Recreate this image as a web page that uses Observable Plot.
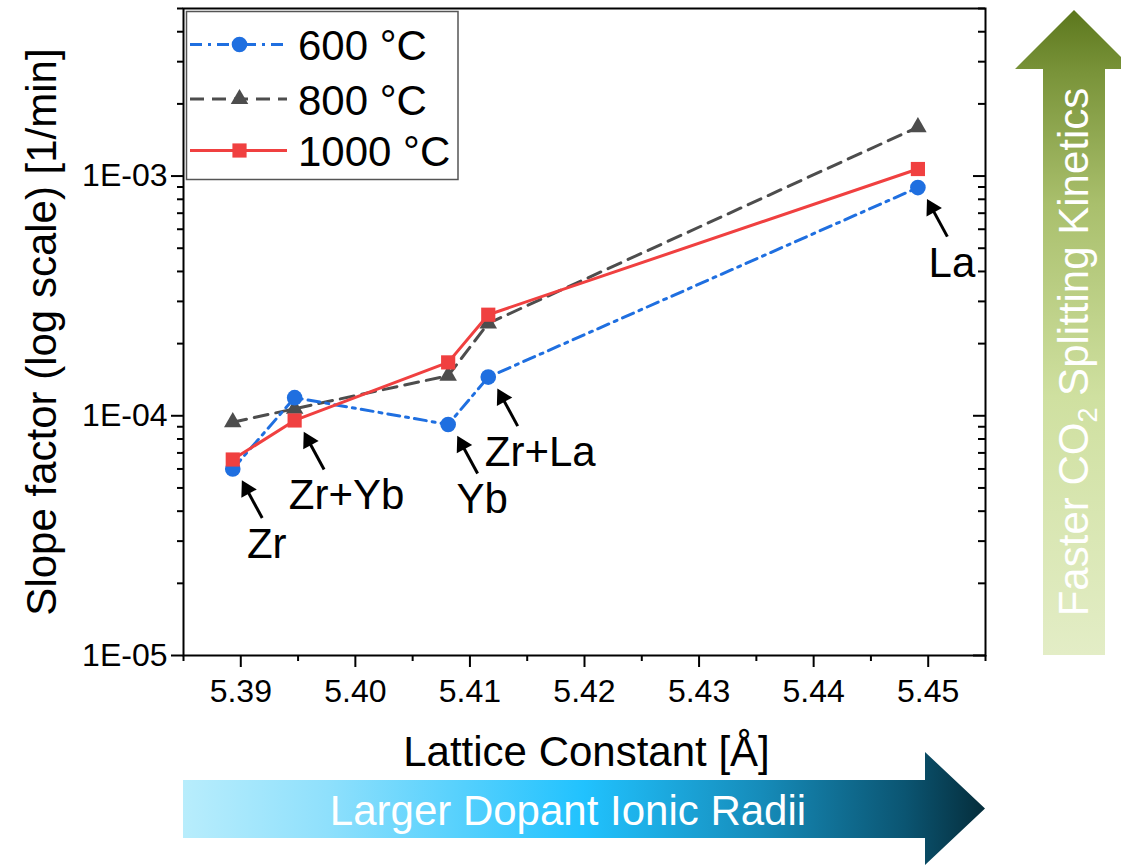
<!DOCTYPE html>
<html><head><meta charset="utf-8">
<script src="https://cdn.jsdelivr.net/npm/d3@7"></script>
<script src="https://cdn.jsdelivr.net/npm/@observablehq/plot@0.6"></script>
<style>
body{margin:0;background:#fff;font-family:"Liberation Sans",Arial,sans-serif;}
#chart{position:relative;width:1121px;height:865px;overflow:hidden;}
</style></head><body><div id="chart"></div>
<script>
// ---- data ----
const dopants = ["Zr", "Zr+Yb", "Yb", "Zr+La", "La"];
const latticeConstant = [5.3893, 5.3947, 5.4081, 5.4116, 5.4491];
const slope600 = [6.0e-5, 1.19e-4, 9.2e-5, 1.45e-4, 8.95e-4];
const slope800 = [9.4e-5, 1.07e-4, 1.47e-4, 2.43e-4, 1.60e-3];
const slope1000 = [6.57e-5, 9.56e-5, 1.67e-4, 2.64e-4, 1.07e-3];
const seriesNames = ["600 °C", "800 °C", "1000 °C"];
const xTicks = [5.39, 5.40, 5.41, 5.42, 5.43, 5.44, 5.45];
const xMinorTicks = [5.385, 5.395, 5.405, 5.415, 5.425, 5.435, 5.445, 5.455];
const yTicks = [1e-5, 1e-4, 1e-3];
const yTickLabels = ["1E-05", "1E-04", "1E-03"];
const yMinorTicks = [2e-5,3e-5,4e-5,5e-5,6e-5,7e-5,8e-5,9e-5,2e-4,3e-4,4e-4,5e-4,6e-4,7e-4,8e-4,9e-4,2e-3,3e-3,4e-3,5e-3];
const xTitle = "Lattice Constant [Å]";
const yTitle = "Slope factor (log scale) [1/min]";
const bottomArrowText = "Larger Dopant Ionic Radii";

// ---- styles ----
const FONT = '"Liberation Sans", Arial, sans-serif';
const styles = {
  "600 °C": {values: slope600, color: "#1f6fe0", dash: "12,6,3,6", symbol: "circle", r: 7.8},
  "800 °C": {values: slope800, color: "#4d4d4d", dash: "14,8", symbol: "triangle", r: 6.5},
  "1000 °C": {values: slope1000, color: "#f04040", dash: null, symbol: "square", r: 8}
};
const drawOrder = ["800 °C", "600 °C", "1000 °C"];

const W = 1121, H = 865;
const mL = 183, mR = 136, mT = 8, mB = 210;
const plotW = W - mL - mR;

const seriesMarks = drawOrder.flatMap(name => {
  const s = styles[name];
  const rows = latticeConstant.map((x, i) => ({x, y: s.values[i]}));
  return [
    Plot.line(rows, {x: "x", y: "y", stroke: s.color, strokeWidth: 3, strokeDasharray: s.dash}),
    Plot.dot(rows, {x: "x", y: "y", symbol: s.symbol, r: s.r, fill: s.color, stroke: "none"})
  ];
});

const annot = dopants.map((name, i) => ({
  name, x: latticeConstant[i], y: Math.min(slope600[i], slope800[i], slope1000[i])
}));

const plot = Plot.plot({
  width: W, height: H,
  marginLeft: mL, marginRight: mR, marginTop: mT, marginBottom: mB,
  style: {fontFamily: FONT, fontSize: "32px", color: "#000", background: "transparent"},
  x: {domain: [5.385, 5.455]},
  y: {type: "log", domain: [1e-5, 5e-3]},
  marks: [
    Plot.axisX({ticks: xMinorTicks, tickSize: 6, tickFormat: () => "", strokeWidth: 2, label: null}),
    Plot.axisX({ticks: xTicks, tickSize: 12, tickPadding: 12, tickFormat: d => d.toFixed(2), strokeWidth: 2, fontSize: 32, label: null}),
    Plot.axisY({ticks: yMinorTicks, tickSize: 6, tickFormat: () => "", strokeWidth: 2, label: null}),
    Plot.axisY({ticks: yTicks, tickSize: 12, tickPadding: 4, tickFormat: d => yTickLabels[yTicks.indexOf(d)], strokeWidth: 2, fontSize: 32, label: null}),
    Plot.tickY(yMinorTicks, {y: d => d, insetLeft: plotW - 7, strokeWidth: 2}),
    Plot.tickY(yTicks, {y: d => d, insetLeft: plotW - 12, strokeWidth: 2}),
    ...seriesMarks,
    // annotation arrows
    Plot.link(annot, {x1: d => d.x + 0.00257, y1: d => d.y * 0.6245, x2: d => d.x + 0.00121, y2: d => d.y * 0.823, stroke: "#000", strokeWidth: 3}),
    Plot.dot(annot, {x: "x", y: "y", dx: 13.9, dy: 20.2, symbol: "triangle", r: 6.5, fill: "#000", stroke: "none", rotate: -28.4}),
    Plot.text(annot.filter(d => d.name.length <= 2), {x: "x", y: "y", text: "name", dx: 34, dy: 89, fontSize: 42, lineAnchor: "bottom", textAnchor: "middle"}),
    Plot.text(annot.filter(d => d.name.length > 2), {x: "x", y: "y", text: "name", dx: 52, dy: 89, fontSize: 42, lineAnchor: "bottom", textAnchor: "middle"}),
    // axis titles
    Plot.text([yTitle], {text: d => d, frameAnchor: "left", dx: -128, rotate: -90, fontSize: 42, lineAnchor: "bottom", textAnchor: "middle"}),
    Plot.text([xTitle], {text: d => d, frameAnchor: "bottom", dx: 2, dy: 110, fontSize: 42, lineAnchor: "bottom", textAnchor: "middle"}),
    Plot.frame({stroke: "#000", strokeWidth: 2})
  ]
});
document.getElementById("chart").appendChild(plot);

// ---- decorations: legend and gradient arrows ----
const svg = d3.select(plot);
const defs = svg.append("defs");
const gH = defs.append("linearGradient").attr("id", "gradH").attr("gradientUnits", "userSpaceOnUse")
  .attr("x1", 183).attr("x2", 985).attr("y1", 0).attr("y2", 0);
[[0, "#b8edfc"], [0.18, "#8fe0fc"], [0.5, "#21c2fe"], [0.72, "#168cba"], [0.9, "#0b5572"], [1, "#052d3b"]]
  .forEach(([o, c]) => gH.append("stop").attr("offset", o).attr("stop-color", c));
const gV = defs.append("linearGradient").attr("id", "gradV").attr("gradientUnits", "userSpaceOnUse")
  .attr("x1", 0).attr("x2", 0).attr("y1", 655).attr("y2", 10);
[[0, "#e3edc6"], [0.4, "#cfe0a0"], [0.7, "#a9bf6c"], [0.9, "#7a943a"], [1, "#5c771d"]]
  .forEach(([o, c]) => gV.append("stop").attr("offset", o).attr("stop-color", c));

// bottom arrow
svg.append("path").attr("fill", "url(#gradH)")
  .attr("d", "M183,780 L925,780 L925,752 L985,808.5 L925,865 L925,838 L183,838 Z");
svg.append("text").attr("x", 568).attr("y", 825).attr("text-anchor", "middle")
  .attr("font-family", FONT).attr("font-size", 42).attr("fill", "#fff").text(bottomArrowText);

// right arrow
svg.append("path").attr("fill", "url(#gradV)")
  .attr("d", "M1043,655 L1043,69 L1015,69 L1074,10 L1133,69 L1105,69 L1105,655 Z");
const vt = svg.append("text").attr("transform", "translate(1088,352) rotate(-90)")
  .attr("text-anchor", "middle").attr("font-family", FONT).attr("font-size", 42).attr("fill", "#fff");
vt.append("tspan").text("Faster CO");
vt.append("tspan").attr("font-size", 27).attr("dy", 9).text("2");
vt.append("tspan").attr("dy", -9).text(" Splitting Kinetics");

// legend
const lg = svg.append("g").attr("text-anchor", "start");
lg.append("rect").attr("x", 186.5).attr("y", 11.5).attr("width", 271.5).attr("height", 168)
  .attr("fill", "#fff").attr("stroke", "#555").attr("stroke-width", 1.5);
const rowY = [44.5, 99, 150.5];
const symMap = {circle: d3.symbolCircle, triangle: d3.symbolTriangle, square: d3.symbolSquare};
seriesNames.forEach((name, i) => {
  const s = styles[name];
  const y = rowY[i];
  lg.append("line").attr("x1", 190).attr("x2", 287).attr("y1", y).attr("y2", y)
    .attr("stroke", s.color).attr("stroke-width", 3).attr("stroke-dasharray", s.dash);
  lg.append("path").attr("transform", `translate(239.5,${y})`)
    .attr("d", d3.symbol(symMap[s.symbol], Math.PI * s.r * s.r)()).attr("fill", s.color);
  lg.append("text").attr("x", 298).attr("y", y + 15.5).attr("text-anchor", "start")
    .attr("font-family", FONT).attr("font-size", 42).attr("fill", "#000").text(name);
});
</script></body></html>
